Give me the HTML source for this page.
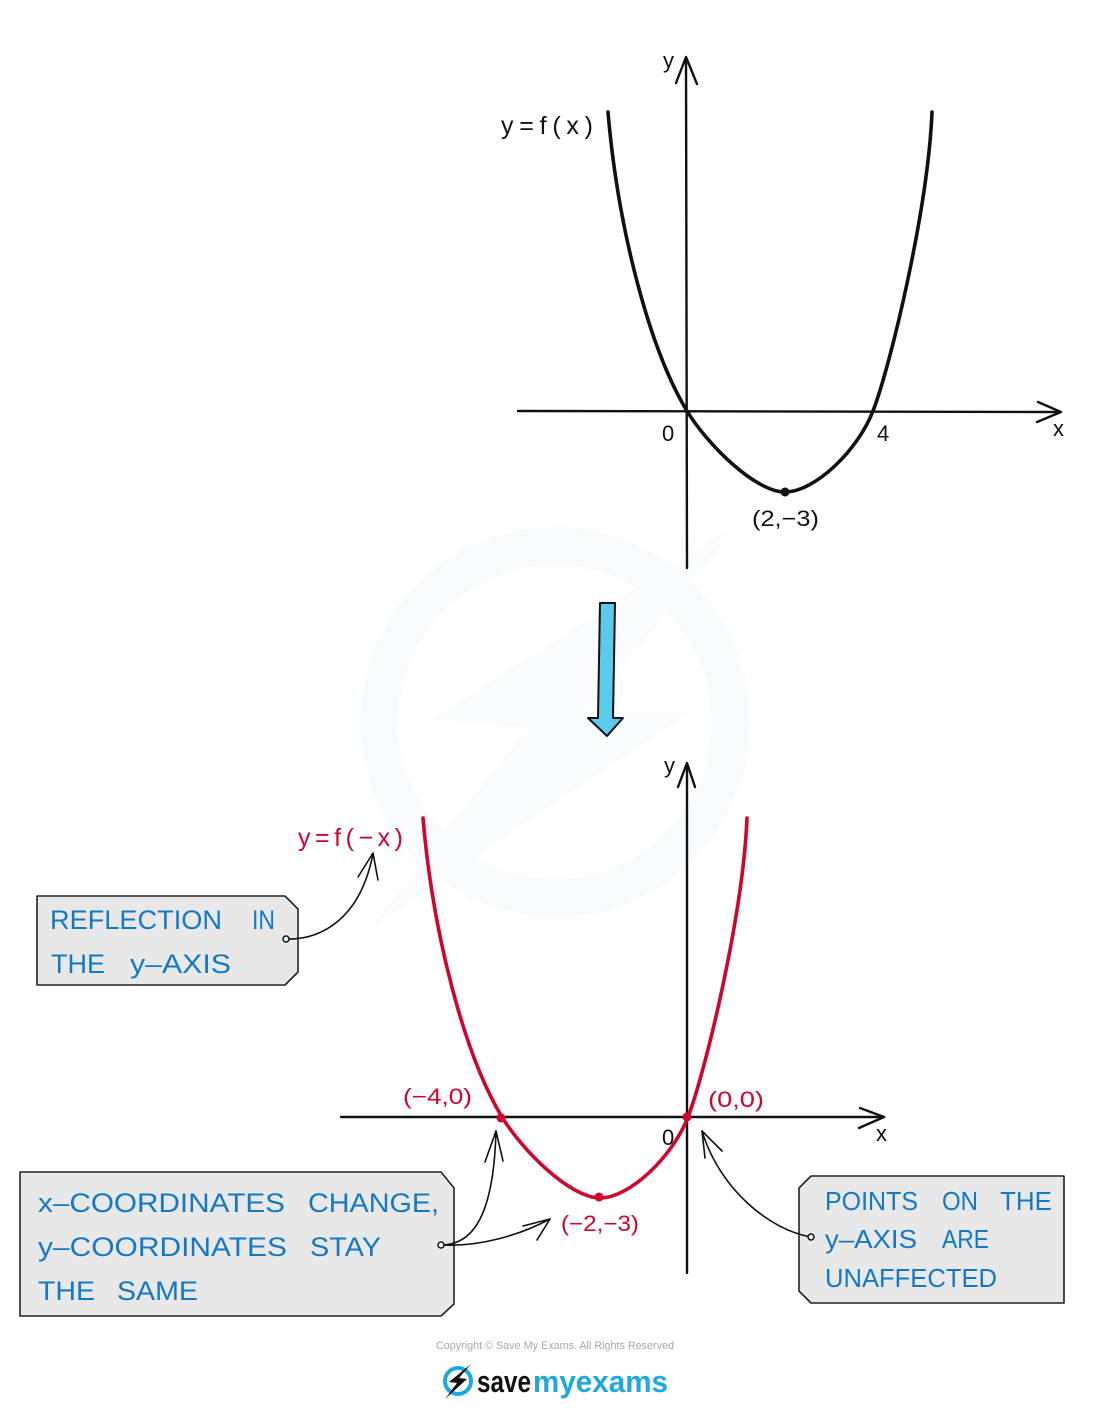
<!DOCTYPE html>
<html>
<head>
<meta charset="utf-8">
<style>
  html, body { margin:0; padding:0; background:#ffffff; }
  body { width:1100px; height:1413px; overflow:hidden; }
  svg { display:block; }
  text { font-family: "Liberation Sans", "DejaVu Sans", sans-serif; }
</style>
</head>
<body>
<svg width="1100" height="1413" viewBox="0 0 1100 1413" xmlns="http://www.w3.org/2000/svg">
  <!-- faint watermark -->
  <g>
    <circle cx="555" cy="722" r="176" fill="none" stroke="#f8fbfd" stroke-width="38"/>
    <polygon points="738,524 432,720 528,728 372,926 690,712 586,712" fill="#f9fbfe"/>
  </g>

  <!-- ============ TOP GRAPH ============ -->
  <g stroke="#111" stroke-width="2.4" fill="none" stroke-linecap="round" stroke-linejoin="round">
    <path d="M687,568 L686,58"/>
    <path d="M676,83 L686,57 L697,84"/>
    <path d="M518,411 L1060,412"/>
    <path d="M1038,402 L1061,412 L1037,422"/>
  </g>
  <path d="M608,112 C618,230 650,350 687,411 C707,444 755,492 785,492 C815,492 858,450 873,411 C890,367 928,210 932,112"
        fill="none" stroke="#111" stroke-width="3.6" stroke-linecap="round"/>
  <circle cx="785" cy="492" r="4.5" fill="#111"/>

  <g fill="#111" font-size="22">
    <text x="663" y="68">y</text>
    <text x="501" y="134" font-size="25" textLength="92" lengthAdjust="spacing">y=f(x)</text>
    <text x="662" y="441">0</text>
    <text x="877" y="441">4</text>
    <text x="1053" y="436">x</text>
    <text x="752" y="526" textLength="67" lengthAdjust="spacingAndGlyphs">(2,−3)</text>
  </g>

  <!-- ============ BLUE ARROW ============ -->
  <path d="M600,603 L615,603 L613,718 L623,718 L607,736 L588,718 L598,718 Z"
        fill="#5bcbec" stroke="#111" stroke-width="2" stroke-linejoin="round"/>

  <!-- ============ BOTTOM GRAPH ============ -->
  <g stroke="#111" stroke-width="2.4" fill="none" stroke-linecap="round" stroke-linejoin="round">
    <path d="M687,1273 L687,764"/>
    <path d="M678,787 L687,763 L695,787"/>
    <path d="M341,1117 L884,1117"/>
    <path d="M860,1108 L884,1117 L859,1128"/>
  </g>
  <g transform="translate(-185,706)">
    <path d="M608,112 C618,230 650,350 687,411 C707,444 755,492 785,492 C815,492 858,450 873,411 C890,367 928,210 932,112"
          fill="none" stroke="#d0042c" stroke-width="3.6" stroke-linecap="round"/>
  </g>
  <circle cx="501" cy="1118" r="4.5" fill="#d0042c"/>
  <circle cx="599" cy="1197" r="4.5" fill="#d0042c"/>
  <circle cx="687" cy="1117" r="4.5" fill="#d0042c"/>

  <g fill="#111" font-size="22">
    <text x="664" y="773">y</text>
    <text x="662" y="1145">0</text>
    <text x="876" y="1141">x</text>
  </g>
  <g fill="#d0042c" font-size="22">
    <text x="298" y="846" font-size="25" textLength="105" lengthAdjust="spacing">y=f(−x)</text>
    <text x="403" y="1104" textLength="69" lengthAdjust="spacingAndGlyphs">(−4,0)</text>
    <text x="708" y="1107" textLength="56" lengthAdjust="spacingAndGlyphs">(0,0)</text>
    <text x="561" y="1231" textLength="78" lengthAdjust="spacingAndGlyphs">(−2,−3)</text>
  </g>

  <!-- ============ BOX 1 ============ -->
  <path d="M37,896 L285,896 L298,909 L298,972 L285,985 L37,985 Z" fill="#e8e8e8" stroke="#222" stroke-width="1.6" stroke-linejoin="round"/>
  <g fill="#1479c4" font-size="27">
    <text x="50" y="929" textLength="172" lengthAdjust="spacingAndGlyphs">REFLECTION</text>
    <text x="252" y="929" textLength="23" lengthAdjust="spacingAndGlyphs">IN</text>
    <text x="51" y="973" textLength="54" lengthAdjust="spacingAndGlyphs">THE</text>
    <text x="130" y="973" textLength="101" lengthAdjust="spacingAndGlyphs">y–AXIS</text>
  </g>
  <g fill="none" stroke="#111" stroke-width="1.6" stroke-linecap="round" stroke-linejoin="round">
    <path d="M286,939 C320,940 360,920 373,854"/>
    <path d="M358,877 L373,853 L378,880"/>
  </g>
  <circle cx="286" cy="939" r="3" fill="#fff" stroke="#111" stroke-width="1.5"/>

  <!-- ============ BOX 2 ============ -->
  <path d="M20,1172 L441,1172 L454,1188 L454,1304 L441,1316 L20,1316 Z" fill="#e8e8e8" stroke="#222" stroke-width="1.6" stroke-linejoin="round"/>
  <g fill="#1479c4" font-size="27">
    <text x="38" y="1212" textLength="247" lengthAdjust="spacingAndGlyphs">x–COORDINATES</text>
    <text x="308" y="1212" textLength="131" lengthAdjust="spacingAndGlyphs">CHANGE,</text>
    <text x="38" y="1256" textLength="249" lengthAdjust="spacingAndGlyphs">y–COORDINATES</text>
    <text x="310" y="1256" textLength="71" lengthAdjust="spacingAndGlyphs">STAY</text>
    <text x="38" y="1300" textLength="57" lengthAdjust="spacingAndGlyphs">THE</text>
    <text x="117" y="1300" textLength="81" lengthAdjust="spacingAndGlyphs">SAME</text>
  </g>
  <g fill="none" stroke="#111" stroke-width="1.6" stroke-linecap="round" stroke-linejoin="round">
    <path d="M441,1245 C478,1245 494,1205 496,1131"/>
    <path d="M485,1162 L496,1131 L503,1161"/>
    <path d="M441,1245 C480,1247 520,1235 550,1219"/>
    <path d="M523,1226 L550,1219 L537,1240"/>
  </g>
  <circle cx="441" cy="1245" r="3" fill="#fff" stroke="#111" stroke-width="1.5"/>

  <!-- ============ BOX 3 ============ -->
  <path d="M811,1176 L1064,1176 L1064,1303 L811,1303 L799,1291 L799,1188 Z" fill="#e8e8e8" stroke="#222" stroke-width="1.6" stroke-linejoin="round"/>
  <g fill="#1479c4" font-size="26">
    <text x="825" y="1210" textLength="93" lengthAdjust="spacingAndGlyphs">POINTS</text>
    <text x="942" y="1210" textLength="36" lengthAdjust="spacingAndGlyphs">ON</text>
    <text x="1000" y="1210" textLength="52" lengthAdjust="spacingAndGlyphs">THE</text>
    <text x="825" y="1248" textLength="92" lengthAdjust="spacingAndGlyphs">y–AXIS</text>
    <text x="942" y="1248" textLength="47" lengthAdjust="spacingAndGlyphs">ARE</text>
    <text x="825" y="1287" textLength="172" lengthAdjust="spacingAndGlyphs">UNAFFECTED</text>
  </g>
  <g fill="none" stroke="#111" stroke-width="1.6" stroke-linecap="round" stroke-linejoin="round">
    <path d="M811,1237 C770,1230 720,1190 702,1131"/>
    <path d="M705,1158 L702,1131 L722,1151"/>
  </g>
  <circle cx="811" cy="1237" r="3" fill="#fff" stroke="#111" stroke-width="1.5"/>

  <!-- ============ FOOTER ============ -->
  <text x="555" y="1349" font-size="11" fill="#a8a8a8" text-anchor="middle" textLength="238" lengthAdjust="spacingAndGlyphs">Copyright © Save My Exams. All Rights Reserved</text>
  <circle cx="458" cy="1381" r="13" fill="none" stroke="#1ea7e1" stroke-width="4"/>
  <polygon points="471,1364 449,1382 457,1383 445,1399 467,1379 459,1378" fill="#111"/>
  <text x="477" y="1392" font-size="31" font-weight="bold" fill="#111" textLength="54" lengthAdjust="spacingAndGlyphs">save</text>
  <text x="533" y="1392" font-size="31" font-weight="bold" fill="#1ea7e1" textLength="135" lengthAdjust="spacingAndGlyphs">myexams</text>
</svg>
</body>
</html>
